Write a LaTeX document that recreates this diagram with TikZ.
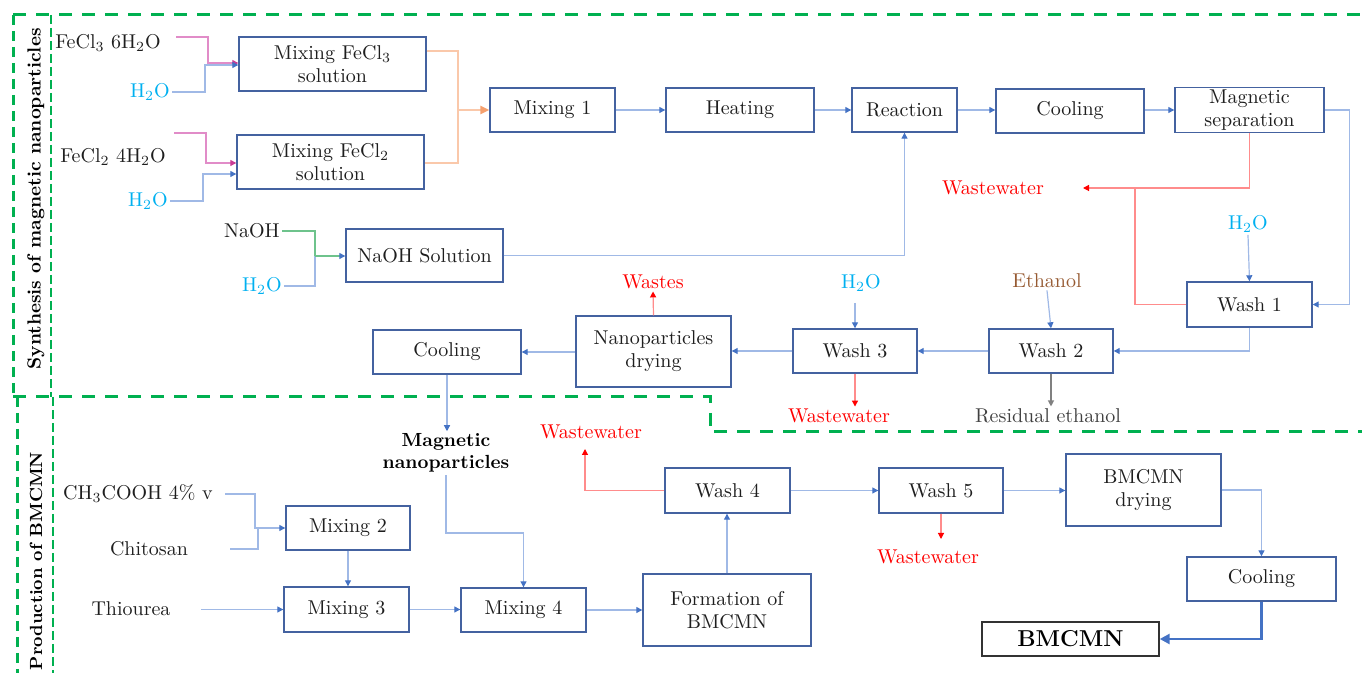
\documentclass[tikz,border=0pt]{standalone}
\usetikzlibrary{arrows.meta,calc}
\definecolor{boxc}{RGB}{68,98,160}
\definecolor{lnb}{RGB}{160,185,230}
\definecolor{tipb}{RGB}{68,114,196}
\definecolor{cyanw}{RGB}{0,176,240}
\definecolor{brownE}{RGB}{150,90,50}
\definecolor{grn}{RGB}{0,176,80}
\definecolor{pinkl}{RGB}{225,140,200}
\definecolor{pinkt}{RGB}{200,60,150}
\definecolor{orl}{RGB}{250,200,170}
\definecolor{ort}{RGB}{245,160,110}
\definecolor{redl}{RGB}{255,140,140}
\definecolor{greenl}{RGB}{110,195,140}
\definecolor{txt}{RGB}{30,30,30}
\definecolor{resid}{RGB}{64,64,64}
\begin{document}
\begin{tikzpicture}[x=0.5pt,y=-0.5pt,
  font=\fontsize{10}{11.5}\selectfont, text=txt,
  box/.style={draw=boxc, line width=0.7pt, align=center, inner sep=1pt, fill=white},
  lbl/.style={inner sep=1pt, align=center},
  tipB/.style={-{Triangle[length=3pt,width=3pt,color=tipb]}},
  con/.style={draw=lnb, line width=0.6pt, tipB},
  lnB/.style={draw=lnb, line width=0.6pt},
  conP/.style={draw=pinkl, line width=0.6pt, -{Triangle[length=3pt,width=3pt,color=pinkt]}},
  conO/.style={draw=orl, line width=0.6pt},
  conG/.style={draw=greenl, line width=0.6pt, -{Triangle[length=3pt,width=3pt,color=tipb]}},
  conR/.style={draw=redl, line width=0.6pt, -{Triangle[length=3pt,width=3pt,color=red]}},
  conK/.style={draw=gray, line width=0.6pt, -{Triangle[length=3pt,width=3pt,color=gray]}},
  frameT/.style={draw=grn, line width=1.5pt, dash pattern=on 6.5pt off 5pt},
  frameL/.style={draw=grn, line width=1.5pt, dash pattern=on 5pt off 3pt},
  frameI/.style={draw=grn, line width=1pt, dash pattern=on 4.5pt off 2pt},
  rot/.style={rotate=90, font=\fontsize{9.5}{11}\bfseries\selectfont, text=black}
]
\useasboundingbox (0,0) rectangle (1362,673);

% ---------- frames ----------
\draw[frameT] (13,15) -- (1366,15);
\draw[frameT] (13,397) -- (710,397) -- (710,432) -- (1366,432);
\draw[frameL] (13,15) -- (13,397);
\draw[frameL] (17,397) -- (17,676);
\draw[frameI] (51,15) -- (51,397);
\draw[frameI] (53,397) -- (53,676);

\node[rot] (syn) at (36,199) {Synthesis of magnetic nanoparticles};
\node[rot, font=\fontsize{8.8}{11}\bfseries\selectfont] (prod) at (36,561) {Production of BMCMN};

% ---------- boxes ----------
\node[box, minimum width=93.5pt, minimum height=27pt] (mfe3) at (332.5,64) {Mixing FeCl\textsubscript{3}\\solution};
\node[box, minimum width=93.5pt, minimum height=27pt] (mfe2) at (330.5,162) {Mixing FeCl\textsubscript{2}\\solution};
\node[box, minimum width=62.5pt, minimum height=22pt] (mix1) at (552.5,110) {Mixing 1};
\node[box, minimum width=74pt, minimum height=22pt] (heat) at (740,110) {Heating};
\node[box, minimum width=52.5pt, minimum height=22pt] (reac) at (904.5,110) {Reaction};
\node[box, minimum width=74pt, minimum height=22pt] (cool1) at (1070,111) {Cooling};
\node[box, minimum width=74.5pt, minimum height=22pt] (magsep) at (1249.5,110) {Magnetic\\separation};
\node[box, minimum width=78.5pt, minimum height=26.5pt] (naoh) at (424.5,255.5) {NaOH Solution};
\node[box, minimum width=62.5pt, minimum height=22.5pt] (wash1) at (1249.5,304.5) {Wash 1};
\node[box, minimum width=62pt, minimum height=22pt] (wash2) at (1051,351) {Wash 2};
\node[box, minimum width=62pt, minimum height=22pt] (wash3) at (855,351) {Wash 3};
\node[box, minimum width=77.5pt, minimum height=35.5pt] (dry) at (653.5,351.5) {Nanoparticles\\drying};
\node[box, minimum width=74pt, minimum height=22pt] (cool2) at (447,352) {Cooling};
\node[box, minimum width=62pt, minimum height=22pt] (mix2) at (348,528) {Mixing 2};
\node[box, minimum width=62.5pt, minimum height=22.5pt] (mix3) at (346.5,609.5) {Mixing 3};
\node[box, minimum width=62.5pt, minimum height=22pt] (mix4) at (523.5,610) {Mixing 4};
\node[box, minimum width=84pt, minimum height=36pt] (form) at (727,610) {Formation of\\BMCMN};
\node[box, minimum width=62.5pt, minimum height=22.5pt] (wash4) at (727.5,490.5) {Wash 4};
\node[box, minimum width=62pt, minimum height=22.5pt] (wash5) at (941,490.5) {Wash 5};
\node[box, minimum width=77.5pt, minimum height=36pt] (drybm) at (1143.5,490) {BMCMN\\drying};
\node[box, minimum width=74.5pt, minimum height=22pt] (cool3) at (1261.5,579) {Cooling};
\node[box, draw=black!80, minimum width=88.5pt, minimum height=17pt, font=\fontsize{11.5}{13}\bfseries\selectfont, text=black] (bmcmn) at (1070.5,639) {BMCMN};

% ---------- labels ----------
\node[lbl] (fe3) at (108,43) {FeCl\textsubscript{3} 6H\textsubscript{2}O};
\node[lbl, anchor=east, text=cyanw] (h2a) at (172,92) {H\textsubscript{2}O};
\node[lbl] (fe2) at (113,157) {FeCl\textsubscript{2} 4H\textsubscript{2}O};
\node[lbl, anchor=east, text=cyanw] (h2b) at (170,201) {H\textsubscript{2}O};
\node[lbl, anchor=east] (naohl) at (282,231) {NaOH};
\node[lbl, anchor=east, text=cyanw] (h2c) at (284,286) {H\textsubscript{2}O};
\node[lbl, text=red] (ww1) at (993,188) {Wastewater};
\node[lbl, text=cyanw] (h2d) at (1248,224) {H\textsubscript{2}O};
\node[lbl, text=brownE] (eth) at (1047,281) {Ethanol};
\node[lbl, text=cyanw] (h2e) at (861,283) {H\textsubscript{2}O};
\node[lbl, text=red] (wastes) at (653,282) {Wastes};
\node[lbl, text=red] (ww2) at (839,416) {Wastewater};
\node[lbl, text=resid] (res) at (1048,416) {Residual ethanol};
\node[lbl, font=\fontsize{9.5}{11}\bfseries\selectfont, text=black] (magnp) at (446,453) {Magnetic\\nanoparticles};
\node[lbl] (ch) at (138,494) {CH\textsubscript{3}COOH 4\% v};
\node[lbl] (chi) at (149,549) {Chitosan};
\node[lbl] (thi) at (131,609) {Thiourea};
\node[lbl, text=red] (ww3) at (591,432) {Wastewater};
\node[lbl, text=red] (ww4) at (928,557) {Wastewater};

% ---------- helper coordinates ----------
\coordinate (p1) at (176,37);
\coordinate (p2) at (174,133);
\coordinate (c1) at (225,494);
\coordinate (c2) at (230,549);
\coordinate (c3) at (201,609.5);
\coordinate (k1) at (0,533);
\coordinate (e1) at (1083,188);
\coordinate (e3) at (585,449);
\coordinate (e4) at (940,539);
\coordinate (m1) at (315,256);
\coordinate (h3) at (855,303);

% ---------- connectors ----------
\draw[conP] (p1) -- (208,37) -- (208,63) -- ([yshift=0.5pt]mfe3.west);
\draw[con] (h2a.east) -- (205,92) -- (205,65) -- ([yshift=-0.5pt]mfe3.west);
\draw[conP] (p2) -- (206,133) -- (206,163) -- ([yshift=-0.5pt]mfe2.west);
\draw[con] (h2b.east) -- (203,201) -- (203,174) -- ([yshift=-6pt]mfe2.west);
\draw[conO] ([yshift=6.5pt]mfe3.east) -- (458,51) -- (458,163) -- ([yshift=-0.5pt]mfe2.east);
\draw[draw=orl, line width=1.2pt, -{Triangle[length=4.5pt,width=4pt,color=ort]}] (458,110) -- (mix1.west);

\draw[con] (mix1.east) -- (heat.west);
\draw[con] (heat.east) -- (reac.west);
\draw[con] (reac.east) -- (reac.east -| cool1.west);
\draw[con] (cool1.east |- magsep.west) -- (magsep.west);
\draw[con] (naoh.east) -| (reac.south);
\draw[draw=greenl, line width=0.6pt] (naohl.east) -| (m1);
\draw[lnB] (h2c.east) -| (m1);
\draw[conG] (m1) -- (m1 -| naoh.west);

\draw[con] (magsep.east) -- ++(25,0) |- (wash1.east);
\draw[conR] (magsep.south) |- (e1);
\draw[draw=redl, line width=0.6pt] (wash1.west) -- (1135,304.5) -- (1135,188);
\draw[con] (h2d.south) -- (wash1.north);
\draw[con] (wash1.south) |- (wash2.east);
\draw[con] (eth.south) -- (wash2.north);
\draw[con] (wash2.west) -- (wash3.east);
\draw[con] (h3) -- (wash3.north);
\draw[con] (wash3.west) -- (dry.east |- wash3.west);
\draw[con] (dry.west |- cool2.east) -- (cool2.east);
\draw[conR] (dry.north) -- (wastes.south);
\draw[conR] (wash3.south) -- (wash3.south |- ww2.north);
\draw[conK] (wash2.south) -- (wash2.south |- res.north);
\draw[con] (cool2.south) -- (cool2.south |- magnp.north);

\draw[con] (magnp.south) -- (magnp.south |- k1) -| (mix4.north);
\draw[con] (c1) -- (255,494) -- (255,528) -- (mix2.west);
\draw[lnB] (c2) -- (258,549) -- (258,528);
\draw[con] (mix2.south) -- (mix2.south |- mix3.north);
\draw[con] (c3) -- (mix3.west);
\draw[con] (mix3.east) -- (mix3.east -| mix4.west);
\draw[con] (mix4.east) -- (form.west);
\draw[con] (form.north) -- (form.north |- wash4.south);
\draw[conR] (wash4.west) -| (e3);
\draw[con] (wash4.east) -- (wash5.west);
\draw[con] (wash5.east) -- (wash5.east -| drybm.west);
\draw[conR] (wash5.south) -- (wash5.south |- e4);
\draw[con] (drybm.east) -| (cool3.north);
\draw[draw=tipb, line width=1.3pt, -{Triangle[length=5pt,width=5pt,color=tipb]}] (cool3.south) |- (bmcmn.east);
\end{tikzpicture}
\end{document}
